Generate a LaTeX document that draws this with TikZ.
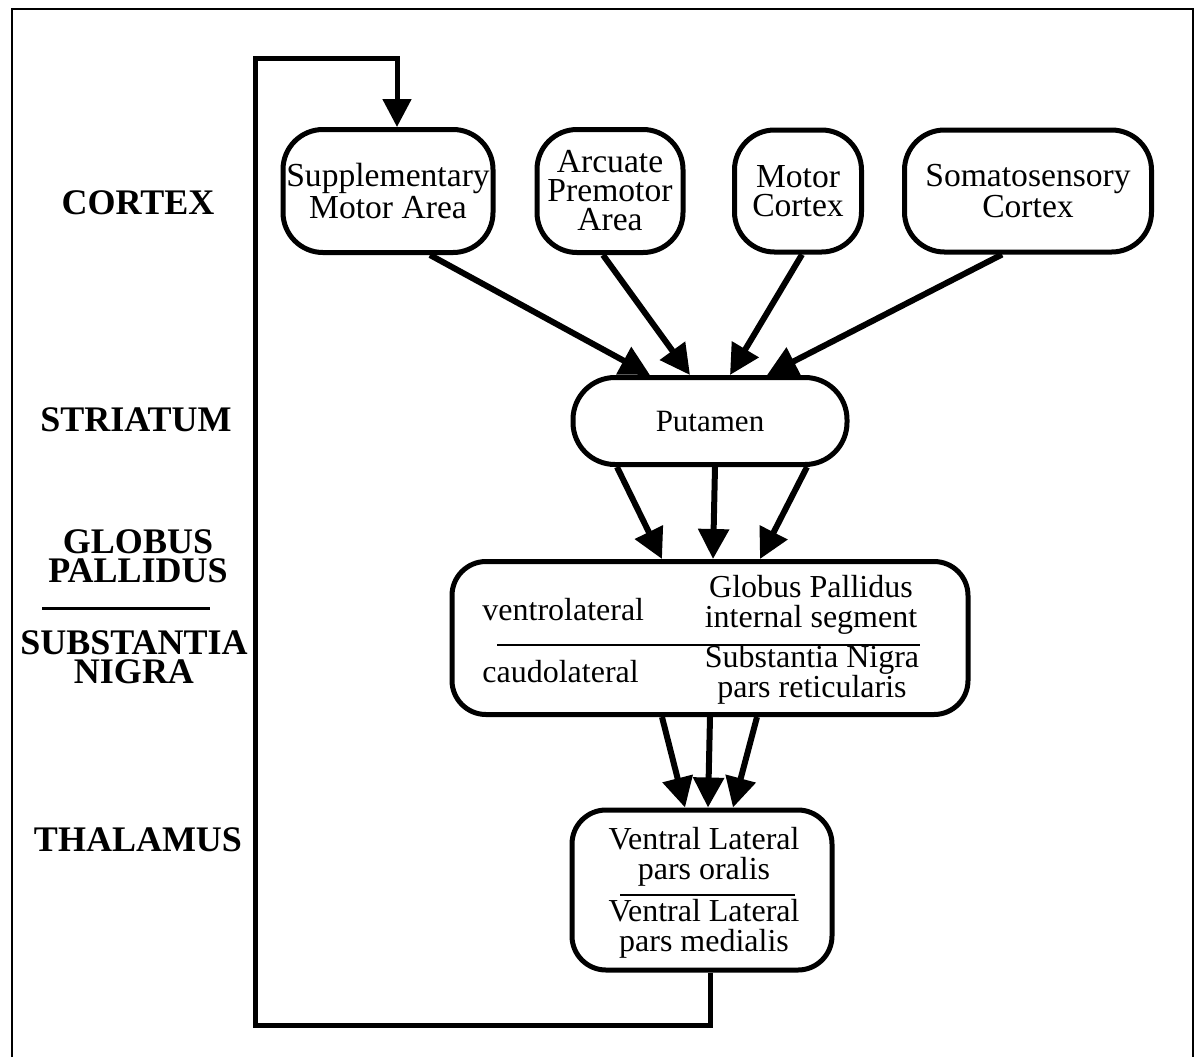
\documentclass[tikz,border=0pt]{standalone}
\usepackage{fontspec}
\setmainfont{Liberation Serif}
\usetikzlibrary{arrows.meta}

\begin{document}
\begin{tikzpicture}[x=0.5pt, y=-0.5pt,
    box/.style={draw, line width=2.5pt, rounded corners=20pt, inner sep=0pt,
      align=center, font=\fontsize{16.8}{14.5}\selectfont},
    lbl/.style={font=\bfseries\fontsize{18}{14.5}\selectfont, align=center},
    txt/.style={font=\fontsize{16}{15}\selectfont, align=center, inner sep=0pt},
    proj/.style={line width=3pt, -{Triangle[length=15pt, width=15pt]}},
    loopline/.style={line width=2.5pt, -{Triangle[length=14pt, width=14pt]}}]
    \useasboundingbox (0, 0) rectangle (1195, 1057);

    % outer frame
    \draw[line width=1pt] (12, 1057) -- (12, 9) -- (1193, 9) -- (1193, 1057);

    % levels on the left
    \node[lbl] (lcortex) at (138, 203) {CORTEX};
    \node[lbl] (lstriatum) at (136, 420) {STRIATUM};
    \node[lbl] (lglobus) at (138, 556) {GLOBUS\\PALLIDUS};
    \draw[line width=1.5pt] (42, 608) -- (210, 608);
    \node[lbl] (lnigra) at (134, 657) {SUBSTANTIA\\NIGRA};
    \node[lbl] (lthal) at (138, 840) {THALAMUS};

    % cortex
    \node[box, minimum width=105pt, minimum height=61.5pt] (sma) at (388, 191)
      {Supplementary\\Motor Area};
    \node[box, minimum width=73pt, minimum height=61.5pt] (apa) at (610, 191)
      {Arcuate\\Premotor\\Area};
    \node[box, minimum width=63.5pt, minimum height=61pt] (mc) at (798, 191)
      {Motor\\Cortex};
    \node[box, minimum width=123.5pt, minimum height=61pt] (ssc) at (1028, 191)
      {Somatosensory\\Cortex};

    % striatum
    \node[box, rounded corners=21pt, minimum width=137pt, minimum height=43.5pt,
      font=\fontsize{15.5}{15}\selectfont] (put) at (710, 421) {Putamen};

    % globus pallidus / substantia nigra
    \node[box, rounded corners=17pt, minimum width=258pt, minimum height=76.5pt]
      (gp) at (710, 638) {};
    \node[txt, anchor=base west] (vl) at (482, 620) {ventrolateral};
    \node[txt, anchor=base west] (cl) at (482, 682) {caudolateral};
    \node[txt] (gpi) at (811, 605) {Globus Pallidus\\internal segment};
    \node[txt] (snr) at (812, 675) {Substantia Nigra\\pars reticularis};
    \draw[line width=1pt] (497, 645) -- (920, 645);

    % thalamus
    \node[box, rounded corners=17pt, minimum width=130pt, minimum height=80pt]
      (thal) at (702, 890) {};
    \node[txt] (vlo) at (704, 857) {Ventral Lateral\\pars oralis};
    \node[txt] (vlm) at (704, 929) {Ventral Lateral\\pars medialis};
    \draw[line width=1pt] (620, 895) -- (795, 895);

    % projections
    \draw[proj] ([xshift=21pt]sma.south) -- ([xshift=-30pt]put.north);
    \draw[proj] ([xshift=-3.5pt]apa.south) -- ([xshift=-10pt]put.north);
    \draw[proj] ([xshift=2pt]mc.south) -- ([xshift=10pt]put.north);
    \draw[proj] ([xshift=-13pt]ssc.south) -- ([xshift=28.5pt]put.north);

    \draw[proj] ([xshift=-46.5pt]put.south) -- ([xshift=-24pt]gp.north);
    \draw[proj] ([xshift=2.5pt]put.south) -- ([xshift=1.5pt]gp.north);
    \draw[proj] ([xshift=48.5pt]put.south) -- ([xshift=25pt]gp.north);

    \draw[proj] ([xshift=-24pt]gp.south) -- ([xshift=-8.5pt]thal.north);
    \draw[proj] (gp.south) -- ([xshift=3pt]thal.north);
    \draw[proj] ([xshift=23.5pt]gp.south) -- ([xshift=15.5pt]thal.north);

    % loop back to the cortex
    \coordinate (fbl) at (255, 1025);
    \coordinate (ftl) at (255, 58);
    \draw[loopline] ([xshift=4pt]thal.south) |- (fbl) -- (ftl)
      -| ([xshift=4.5pt]sma.north);
\end{tikzpicture}
\end{document}
